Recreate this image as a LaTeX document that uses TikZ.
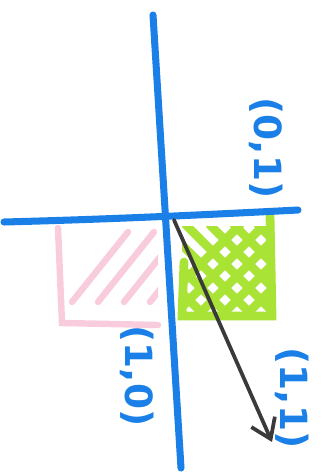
\documentclass[tikz,border=0pt]{standalone}
\usepackage{fontspec}
\setmainfont{DejaVu Sans}
\usetikzlibrary{arrows.meta}

\definecolor{penblue}{HTML}{1A7FE6}
\definecolor{pengreen}{HTML}{A8E336}
\definecolor{penpink}{HTML}{F8CCDD}
\definecolor{pengray}{HTML}{3A3A3A}

\begin{document}
\begin{tikzpicture}[
    x=0.03cm, y=-0.03cm,
    axis/.style={penblue, line width=6pt, line cap=round},
    pinkline/.style={penpink, line width=5.5pt, line cap=round},
    greenline/.style={pengreen, line width=7.5pt, line cap=round},
    vec/.style={pengray, line width=3.2pt, line cap=round, line join=round,
                -{Straight Barb[length=16pt, width=22pt, line width=3.2pt]}},
    coord/.style={penblue, font=\bfseries\fontsize{32}{36}\selectfont,
                  rotate=-90, inner sep=0pt}
  ]
  \useasboundingbox (0,0) rectangle (325,474);

  % Pink region (left, below axis)
  \draw[pinkline] (58,228) -- (62,323) -- (158,325);
  \begin{scope}
    \clip (60,222) rectangle (158,322);
    \foreach \s in {0,26,...,80}
      \draw[pinkline] (72+\s,302) -- (128+\s,232);
  \end{scope}

  % Green region (right, below axis)
  \draw[greenline] (270,215) -- (272,316) -- (182,316) -- (184,262);
  \begin{scope}
    \clip (182,226) rectangle (272,316);
    \foreach \s in {-66,-42,...,100}
      \draw[greenline] (180+\s,225) -- (270+\s,315);
    \foreach \s in {-20,4,...,120}
      \draw[greenline] (170+\s,315) -- (260+\s,225);
  \end{scope}

  % Axes
  \coordinate (ytop) at (153,15);
  \coordinate (ybot) at (181,468);
  \coordinate (xleft) at (4,222);
  \coordinate (xright) at (298,210);
  \draw[axis] (ytop) -- (ybot);
  \draw[axis] (xleft) .. controls (120,219) and (220,214) .. (xright);

  % Vector
  \coordinate (O) at (174,220);
  \coordinate (tip) at (272,442);
  \draw[vec] (O) -- (tip);

  % Labels
  \node[coord] (e2) at (266,148) {(0,1)};
  \node[coord] (e1) at (137,376) {(1,0)};
  \node[coord] (v) at (292,398) {(1,1)};
\end{tikzpicture}
\end{document}
